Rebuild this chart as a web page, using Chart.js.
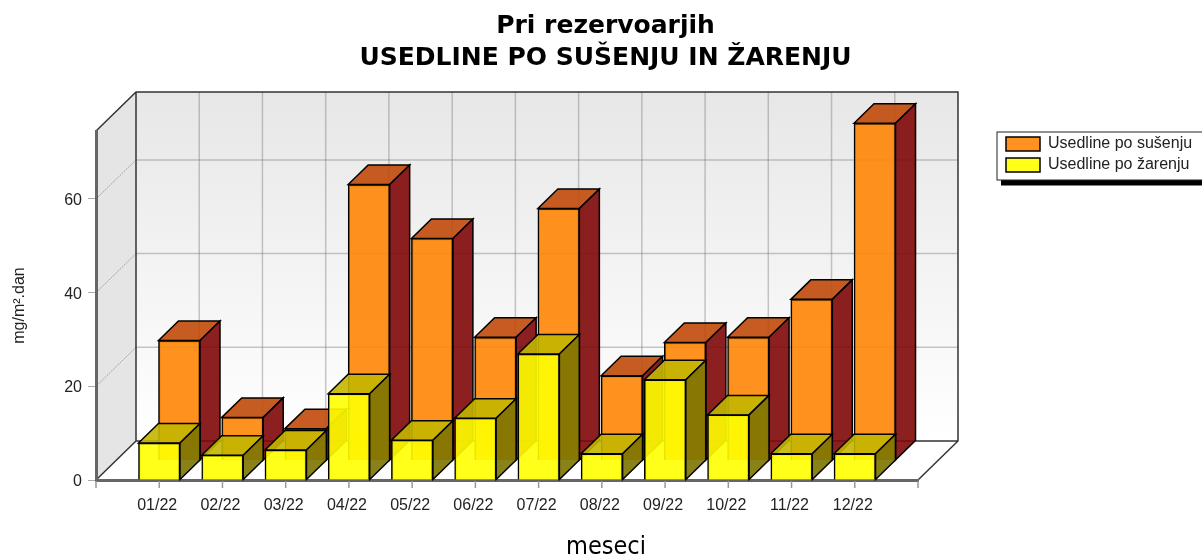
<!DOCTYPE html>
<html>
<head>
<meta charset="utf-8">
<title>Pri rezervoarjih</title>
<script src="https://cdn.jsdelivr.net/npm/chart.js@4"></script>
<style>
  html, body { margin: 0; padding: 0; background: #fff; overflow: hidden; }
  canvas { display: block; }
</style>
</head>
<body>
<canvas id="chart" width="1202" height="560"></canvas>
<script>
const meseci = ['01/22', '02/22', '03/22', '04/22', '05/22', '06/22', '07/22', '08/22', '09/22', '10/22', '11/22', '12/22'];
const usedlinePoSusenju = [25.6, 9.2, 6.8, 58.9, 47.4, 26.3, 53.8, 18.1, 25.2, 26.3, 34.4, 72.0];
const usedlinePoZarenju = [7.9, 5.3, 6.4, 18.4, 8.5, 13.2, 26.9, 5.6, 21.4, 13.9, 5.6, 5.6];
const yTicks = [0, 20, 40, 60];

// globina 3D pogleda
const WALL_DX = 40, WALL_DY = -39;
const BAR_DX = 20, BAR_DY = -19.5;

function poly(ctx, pts, fill, stroke, lw) {
  ctx.beginPath();
  pts.forEach((p, i) => i ? ctx.lineTo(p[0], p[1]) : ctx.moveTo(p[0], p[1]));
  ctx.closePath();
  if (fill) { ctx.fillStyle = fill; ctx.fill(); }
  if (stroke) { ctx.strokeStyle = stroke; ctx.lineWidth = lw; ctx.stroke(); }
}

const plot3d = {
  id: 'plot3d',
  afterLayout(chart) {
    // naslov in legenda nista poravnana s plotom
    const t = chart.titleBlock;
    t.left = 0; t.right = 1211;
    const l = chart.legend;
    const w = l.width, h = l.height;
    l.left = 1001; l.right = 1001 + w;
    l.top = 131; l.bottom = 131 + h;
  },
  beforeDraw(chart) {
    const ctx = chart.ctx;
    const { left, right, top, bottom } = chart.chartArea;
    const x = chart.scales.x, y = chart.scales.y;
    const bl = left + WALL_DX, br = right + WALL_DX, bb = bottom + WALL_DY, bt = top + WALL_DY;

    ctx.save();
    const grad = ctx.createLinearGradient(0, bt, 0, bb);
    grad.addColorStop(0, '#e7e7e7');
    grad.addColorStop(1, '#ffffff');
    ctx.fillStyle = grad;
    ctx.fillRect(bl, bt, br - bl, bb - bt);
    poly(ctx, [[left, top], [bl, bt], [bl, bb], [left, bottom]], '#e5e5e5');
    poly(ctx, [[left, bottom], [bl, bb], [br, bb], [right, bottom]], '#ffffff');

    // mreza na zadnji in levi steni
    ctx.strokeStyle = 'rgba(110,110,110,0.38)';
    ctx.lineWidth = 1.5;
    x.ticks.forEach((t, i) => {
      if (i === 0 || i === x.ticks.length - 1) return;
      const px = x.getPixelForTick(i) + WALL_DX;
      ctx.beginPath(); ctx.moveTo(px, bt); ctx.lineTo(px, bb); ctx.stroke();
    });
    yTicks.forEach(v => {
      if (v === 0) return;
      const py = y.getPixelForValue(v);
      ctx.strokeStyle = 'rgba(110,110,110,0.38)';
      ctx.lineWidth = 1.5;
      ctx.setLineDash([]);
      ctx.beginPath(); ctx.moveTo(bl, py + WALL_DY); ctx.lineTo(br, py + WALL_DY); ctx.stroke();
      ctx.strokeStyle = 'rgba(120,120,120,0.6)';
      ctx.lineWidth = 1;
      ctx.setLineDash([2, 1]);
      ctx.beginPath(); ctx.moveTo(left, py); ctx.lineTo(bl, py + WALL_DY); ctx.stroke();
      ctx.setLineDash([]);
    });

    // robovi sten
    ctx.strokeStyle = '#333';
    ctx.lineWidth = 1.5;
    ctx.beginPath();
    ctx.moveTo(left, top); ctx.lineTo(bl, bt); ctx.lineTo(br, bt); ctx.lineTo(br, bb);
    ctx.lineTo(right, bottom);
    ctx.moveTo(bl, bt); ctx.lineTo(bl, bb); ctx.lineTo(br, bb);
    ctx.moveTo(bl, bb); ctx.lineTo(left, bottom);
    ctx.stroke();

    // okvir legende s senco
    ctx.fillStyle = '#000';
    ctx.fillRect(1001, 180, 204, 5.5);
    ctx.fillStyle = '#fff';
    ctx.strokeStyle = '#222';
    ctx.lineWidth = 1;
    ctx.fillRect(997, 132, 210, 48);
    ctx.strokeRect(997, 132, 210, 48);

    // oznaka x osi
    ctx.fillStyle = '#000';
    ctx.font = '25px "DejaVu Sans Condensed", "DejaVu Sans"';
    ctx.textAlign = 'center';
    ctx.textBaseline = 'middle';
    ctx.fillText('meseci', 606, 547);
    ctx.restore();
  },
  beforeDatasetDraw(chart, args) {
    const ctx = chart.ctx;
    const ds = chart.data.datasets[args.index];
    ctx.save();
    // oranzni stolpci stojijo v ozadju
    if (ds.shift) ctx.translate(BAR_DX, BAR_DY);
    args.meta.data.forEach((el, i) => {
      if (ds.data[i] == null) return;
      const l = el.x - el.width / 2, r = el.x + el.width / 2;
      poly(ctx, [[l, el.y], [l + BAR_DX, el.y + BAR_DY], [r + BAR_DX, el.y + BAR_DY], [r, el.y]], ds.topColor, '#000', 1.5);
      poly(ctx, [[r, el.y], [r + BAR_DX, el.y + BAR_DY], [r + BAR_DX, el.base + BAR_DY], [r, el.base]], ds.sideColor, '#000', 1.5);
    });
  },
  afterDatasetDraw(chart) {
    chart.ctx.restore();
  },
  afterDraw(chart) {
    // crtice na x osi
    const ctx = chart.ctx;
    const x = chart.scales.x, bottom = chart.chartArea.bottom;
    ctx.save();
    ctx.strokeStyle = '#999';
    ctx.lineWidth = 1.5;
    x.ticks.forEach((t, i) => {
      const px = x.getPixelForTick(i);
      ctx.beginPath(); ctx.moveTo(px, bottom + 1); ctx.lineTo(px, bottom + 8); ctx.stroke();
    });
    ctx.restore();
  }
};

const ctx = document.getElementById('chart');
new Chart(ctx, {
  type: 'bar',
  plugins: [plot3d],
  data: {
    labels: ['', ...meseci, ''],
    datasets: [
      {
        label: 'Usedline po sušenju',
        data: [null, ...usedlinePoSusenju, null],
        backgroundColor: 'rgba(255,133,6,0.9)',
        topColor: 'rgba(192,74,10,0.9)',
        sideColor: 'rgba(127,8,8,0.9)',
        shift: true,
        order: 1
      },
      {
        label: 'Usedline po žarenju',
        data: [null, ...usedlinePoZarenju, null],
        backgroundColor: 'rgba(255,255,0,0.9)',
        topColor: 'rgba(196,182,0,0.9)',
        sideColor: 'rgba(124,116,0,0.9)',
        shift: false,
        order: 0
      }
    ]
  },
  options: {
    responsive: false,
    animation: false,
    devicePixelRatio: 1,
    layout: { padding: { left: 0, right: 284, top: 0, bottom: 0 } },
    datasets: {
      bar: { grouped: false, barThickness: 41.5, borderColor: '#000', borderWidth: 1.5, clip: false }
    },
    plugins: {
      tooltip: { enabled: false },
      title: {
        display: true,
        text: ['Pri rezervoarjih', 'USEDLINE PO SUŠENJU IN ŽARENJU'],
        color: '#000',
        font: { family: '"DejaVu Sans"', size: 25, weight: 'bold', lineHeight: 1.28 },
        padding: { top: 10, bottom: 57 }
      },
      legend: {
        position: 'chartArea',
        align: 'start',
        labels: {
          color: '#222',
          boxWidth: 34,
          boxHeight: 14,
          padding: 5,
          sort: (a, b) => a.datasetIndex - b.datasetIndex,
          font: { family: '"Liberation Sans"', size: 16 }
        }
      }
    },
    scales: {
      x: {
        offset: false,
        afterFit(s) { s.height = 80; },
        border: { color: '#666', width: 3 },
        grid: { offset: false, drawOnChartArea: false, drawTicks: false },
        ticks: {
          autoSkip: false,
          maxRotation: 0,
          padding: 16,
          labelOffset: -2,
          color: '#222',
          font: { family: '"Liberation Sans"', size: 16 }
        }
      },
      y: {
        min: 0,
        max: 74.5,
        afterFit(s) { s.width = 96; },
        border: { color: '#666', width: 3 },
        grid: { drawOnChartArea: false, drawTicks: true, tickLength: 8, color: '#aaa' },
        title: {
          display: true,
          text: 'mg/m².dan',
          color: '#222',
          font: { family: '"Liberation Sans"', size: 16 },
          padding: { top: 10, bottom: 0 }
        },
        ticks: {
          stepSize: 20,
          includeBounds: false,
          padding: 6,
          labelOffset: 1.5,
          color: '#222',
          font: { family: '"Liberation Sans"', size: 16 }
        }
      }
    }
  }
});
</script>
</body>
</html>
